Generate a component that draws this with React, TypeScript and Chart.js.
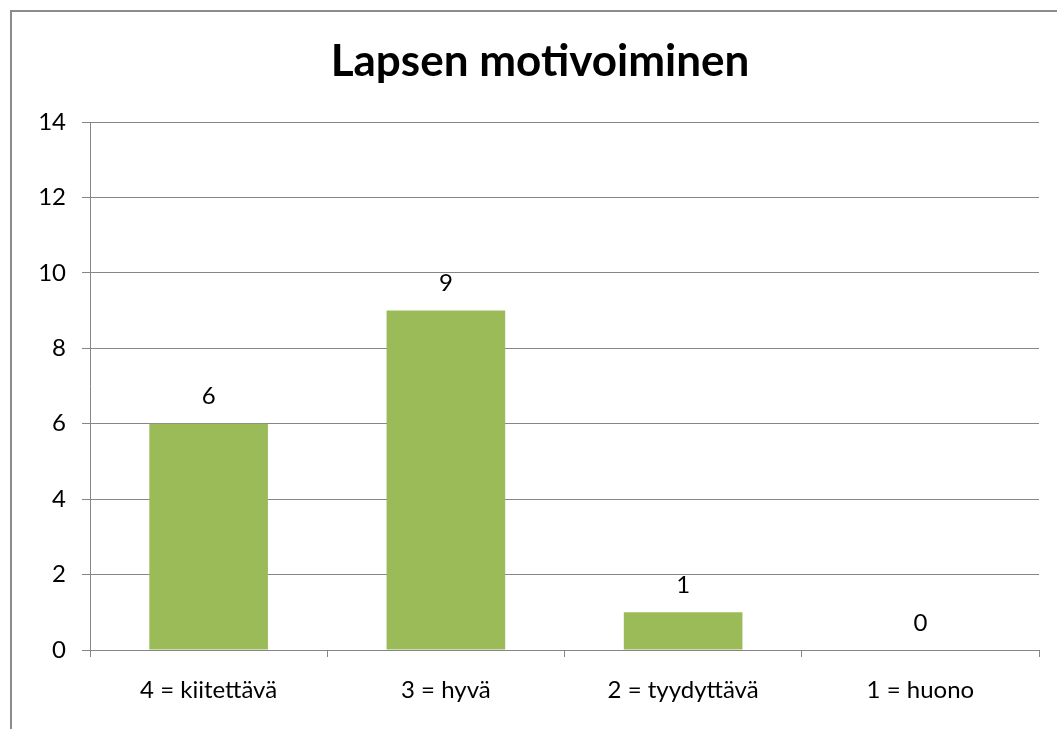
import React, { useEffect, useRef } from "react";
import { Chart, registerables } from "chart.js";

Chart.register(...registerables);

const TITLE = "Lapsen motivoiminen";
const CATEGORIES = ["4 = kiitettävä", "3 = hyvä", "2 = tyydyttävä", "1 = huono"];
const VALUES = [6, 9, 1, 0];
const Y_MIN = 0;
const Y_MAX = 14;
const Y_STEP = 2;

const FONT = "Lato, 'Open Sans', sans-serif";
const GRID = "#868686";

const decorPlugin = {
  id: "decor",
  beforeDraw(chart: any) {
    const ctx = chart.ctx;
    ctx.save();
    ctx.fillStyle = "#ffffff";
    ctx.fillRect(0, 0, chart.width, chart.height);
    ctx.strokeStyle = "#8c8c8c";
    ctx.lineWidth = 2;
    ctx.strokeRect(11, 11, chart.width + 20, chart.height + 20);
    ctx.restore();
  },
  afterDraw(chart: any) {
    const ctx = chart.ctx;
    ctx.save();
    ctx.fillStyle = "#000";
    ctx.textAlign = "center";
    ctx.textBaseline = "middle";
    ctx.font = `bold 44px ${FONT}`;
    ctx.fillText(TITLE, 540, 62);
    ctx.font = `24px ${FONT}`;
    const meta = chart.getDatasetMeta(0);
    meta.data.forEach((bar: any, i: number) => {
      ctx.fillText(String(VALUES[i]), bar.x, bar.y - 27);
    });
    ctx.restore();
  },
};

export default function App() {
  const ref = useRef<HTMLCanvasElement>(null);
  useEffect(() => {
    const chart = new Chart(ref.current!, {
      type: "bar",
      data: {
        labels: CATEGORIES,
        datasets: [
          {
            data: VALUES,
            backgroundColor: "#9BBB59",
            barPercentage: 0.5,
            categoryPercentage: 1,
          },
        ],
      },
      options: {
        responsive: false,
        animation: false,
        layout: { padding: { left: 0, right: 18, top: 122, bottom: 0 } },
        plugins: { legend: { display: false }, title: { display: false }, tooltip: { enabled: false } },
        scales: {
          x: {
            grid: { drawOnChartArea: false, drawTicks: true, tickLength: 7, color: GRID, offset: true },
            border: { color: GRID, width: 1 },
            ticks: { color: "#000", font: { family: FONT, size: 24 }, padding: 19, maxRotation: 0 },
            afterFit(axis: any) {
              axis.height = 79;
            },
          },
          y: {
            min: Y_MIN,
            max: Y_MAX,
            ticks: { stepSize: Y_STEP, color: "#000", font: { family: FONT, size: 24 }, padding: 16 },
            grid: { color: GRID, tickLength: 8, drawTicks: true },
            border: { color: GRID, width: 1 },
            afterFit(axis: any) {
              axis.width = 90;
            },
          },
        },
      },
      plugins: [decorPlugin],
    });
    return () => chart.destroy();
  }, []);
  return (
    <div style={{ position: "absolute", left: 0, top: 0 }}>
      <canvas ref={ref} width={1057} height={729} style={{ display: "block" }} />
    </div>
  );
}
